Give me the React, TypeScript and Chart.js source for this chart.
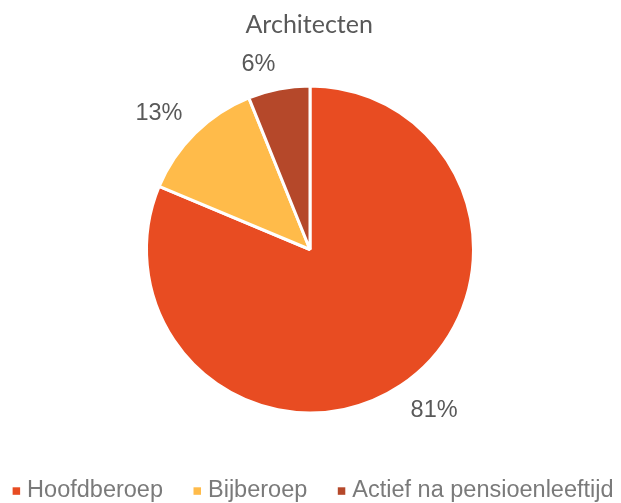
import React, { useEffect, useRef } from "react";
import { Chart, registerables } from "chart.js";

Chart.register(...registerables);

const chartTitle = "Architecten";
const categories = ["Hoofdberoep", "Bijberoep", "Actief na pensioenleeftijd"];
const shares = [81.3, 12.6, 6.1];
const colors = ["#E84C22", "#FFBB4A", "#B5482A"];

const W = 621;
const H = 503;

export default function App() {
  const ref = useRef<HTMLCanvasElement>(null);

  useEffect(() => {
    if (!ref.current) return;

    const outsideLabels = {
      id: "outsideLabels",
      afterDatasetsDraw(chart: any) {
        const ctx = chart.ctx;
        const meta = chart.getDatasetMeta(0);
        const data = chart.data.datasets[0].data as number[];
        const total = data.reduce((a, b) => a + b, 0);
        const fs = 23.5;
        const cap = fs * 0.716;
        ctx.save();
        ctx.font = `${fs}px "Liberation Sans", Arial, sans-serif`;
        ctx.fillStyle = "#595959";
        ctx.textBaseline = "alphabetic";
        meta.data.forEach((arc: any, i: number) => {
          const { x, y, startAngle, endAngle, outerRadius } = arc.getProps(
            ["x", "y", "startAngle", "endAngle", "outerRadius"],
            true
          );
          const mid = (startAngle + endAngle) / 2;
          const dx = Math.cos(mid);
          const dy = Math.sin(mid);
          const d = outerRadius + 18;
          const cx = x + dx * d;
          const cy = y + dy * d;
          const text = Math.round((data[i] / total) * 100) + "%";
          ctx.textAlign = dx < 0 ? "right" : "left";
          ctx.fillText(text, cx, dy < 0 ? cy : cy + cap);
        });
        ctx.restore();
      },
    };

    const titleAndLegend = {
      id: "titleAndLegend",
      afterDraw(chart: any) {
        const ctx = chart.ctx;
        ctx.save();
        // title
        ctx.font = `25px Lato, "Open Sans", sans-serif`;
        ctx.fillStyle = "#595959";
        ctx.textAlign = "center";
        ctx.textBaseline = "alphabetic";
        ctx.fillText(chartTitle, 309.2, 33.3);

        // legend
        const fs = 23.5;
        ctx.font = `${fs}px "Liberation Sans", Arial, sans-serif`;
        ctx.textAlign = "left";
        const box = 7.5;
        const boxGap = 7;
        const itemGap = 30.5;
        const labels = chart.data.labels as string[];
        const bg = chart.data.datasets[0].backgroundColor as string[];
        const widths = labels.map((l) => box + boxGap + ctx.measureText(l).width);
        const total = widths.reduce((a, b) => a + b, 0) + itemGap * (labels.length - 1);
        let x = 313.1 - total / 2;
        const baseline = 497.3;
        labels.forEach((l, i) => {
          ctx.fillStyle = bg[i];
          ctx.fillRect(x, 487.3, box, box);
          ctx.fillStyle = "#7a7a7a";
          ctx.fillText(l, x + box + boxGap, baseline);
          x += widths[i] + itemGap;
        });
        ctx.restore();
      },
    };

    const chart = new Chart(ref.current, {
      type: "pie",
      data: {
        labels: categories,
        datasets: [
          {
            data: shares,
            backgroundColor: colors,
            borderColor: "#ffffff",
            borderWidth: 3,
            hoverOffset: 0,
          },
        ],
      },
      options: {
        responsive: false,
        animation: false,
        radius: 163.5,
        layout: { padding: { left: 100, right: 101, top: 60, bottom: 64 } },
        plugins: {
          legend: { display: false },
          title: { display: false },
          tooltip: { enabled: false },
        },
      } as any,
      plugins: [outsideLabels, titleAndLegend],
    });

    return () => chart.destroy();
  }, []);

  return (
    <div style={{ position: "fixed", left: 0, top: 0, width: W, height: H, background: "#fff" }}>
      <canvas ref={ref} width={W} height={H} style={{ display: "block" }} />
    </div>
  );
}
